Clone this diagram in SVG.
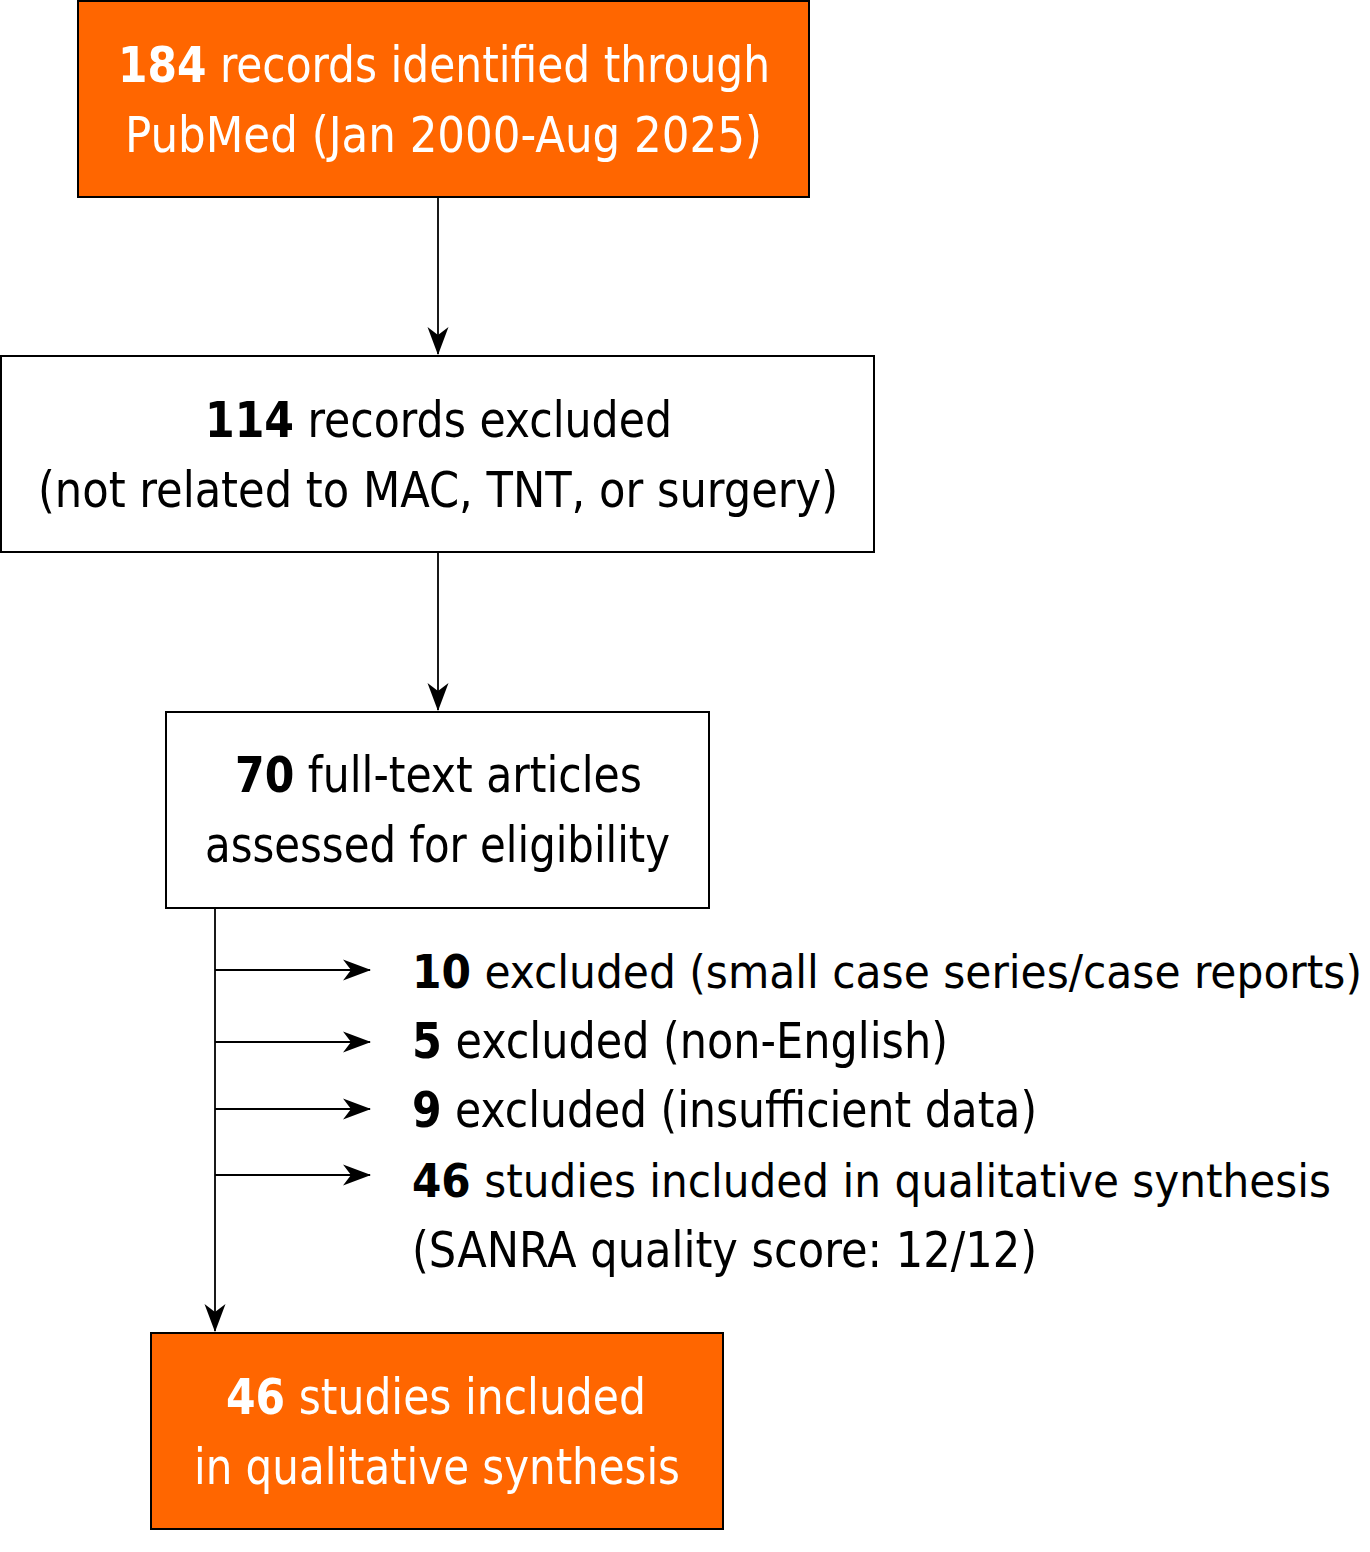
<svg xmlns="http://www.w3.org/2000/svg" width="1370" height="1552" viewBox="0 0 1370 1552">
<defs>
<style>
.box{stroke:#000;stroke-width:2}
.orange{fill:#FF6600}
.white{fill:#fff}
.t{font-family:"DejaVu Sans Condensed","DejaVu Sans",sans-serif;font-size:50px}
.s{font-size:47px}
.tw{fill:#fff}
.tb{fill:#000}
.b{font-weight:bold}
.edge{stroke:#000;stroke-width:1.8;fill:none}
</style>
<marker id="ah" markerUnits="userSpaceOnUse" markerWidth="28" markerHeight="24" viewBox="0 0 28 24" refX="27" refY="12" orient="auto">
<path d="M0,1.5 L28,12 L0,22.5 L8,12 z" fill="#000"/>
</marker>
</defs>
<rect width="1370" height="1552" fill="#fff"/>
<g id="connectors">
<line class="edge" x1="438" y1="198" x2="438" y2="354" marker-end="url(#ah)"/>
<line class="edge" x1="438" y1="553" x2="438" y2="710" marker-end="url(#ah)"/>
<line class="edge" x1="215" y1="909" x2="215" y2="1331" marker-end="url(#ah)"/>
<line class="edge" x1="215" y1="970" x2="370" y2="970" marker-end="url(#ah)"/>
<line class="edge" x1="215" y1="1042" x2="370" y2="1042" marker-end="url(#ah)"/>
<line class="edge" x1="215" y1="1109" x2="370" y2="1109" marker-end="url(#ah)"/>
<line class="edge" x1="215" y1="1175" x2="370" y2="1175" marker-end="url(#ah)"/>
</g>
<g id="node-identified">
<rect class="box orange" x="78" y="1" width="731" height="196"/>
<text class="t tw" x="118" y="82" textLength="652" lengthAdjust="spacingAndGlyphs"><tspan class="b">184</tspan> records identified through</text>
<text class="t tw" x="125" y="152" textLength="637" lengthAdjust="spacingAndGlyphs">PubMed (Jan 2000-Aug 2025)</text>
</g>
<g id="node-excluded">
<rect class="box white" x="1" y="356" width="873" height="196"/>
<text class="t tb" x="205" y="437" textLength="467" lengthAdjust="spacingAndGlyphs"><tspan class="b">114</tspan> records excluded</text>
<text class="t tb" x="38" y="507" textLength="800" lengthAdjust="spacingAndGlyphs">(not related to MAC, TNT, or surgery)</text>
</g>
<g id="node-fulltext">
<rect class="box white" x="166" y="712" width="543" height="196"/>
<text class="t tb" x="235" y="792" textLength="407" lengthAdjust="spacingAndGlyphs"><tspan class="b">70</tspan> full-text articles</text>
<text class="t tb" x="205" y="862" textLength="465" lengthAdjust="spacingAndGlyphs">assessed for eligibility</text>
</g>
<g id="labels-side">
<text class="t s tb" x="412" y="988" textLength="950" lengthAdjust="spacingAndGlyphs"><tspan class="b">10</tspan> excluded (small case series/case reports)</text>
<text class="t tb" x="412" y="1058" textLength="536" lengthAdjust="spacingAndGlyphs"><tspan class="b">5</tspan> excluded (non-English)</text>
<text class="t tb" x="412" y="1127" textLength="625" lengthAdjust="spacingAndGlyphs"><tspan class="b">9</tspan> excluded (insufficient data)</text>
<text class="t s tb" x="412" y="1197" textLength="919" lengthAdjust="spacingAndGlyphs"><tspan class="b">46</tspan> studies included in qualitative synthesis</text>
<text class="t tb" x="412" y="1267" textLength="625" lengthAdjust="spacingAndGlyphs">(SANRA quality score: 12/12)</text>
</g>
<g id="node-included">
<rect class="box orange" x="151" y="1333" width="572" height="196"/>
<text class="t tw" x="226" y="1414" textLength="420" lengthAdjust="spacingAndGlyphs"><tspan class="b">46</tspan> studies included</text>
<text class="t tw" x="194" y="1484" textLength="486" lengthAdjust="spacingAndGlyphs">in qualitative synthesis</text>
</g>
</svg>
